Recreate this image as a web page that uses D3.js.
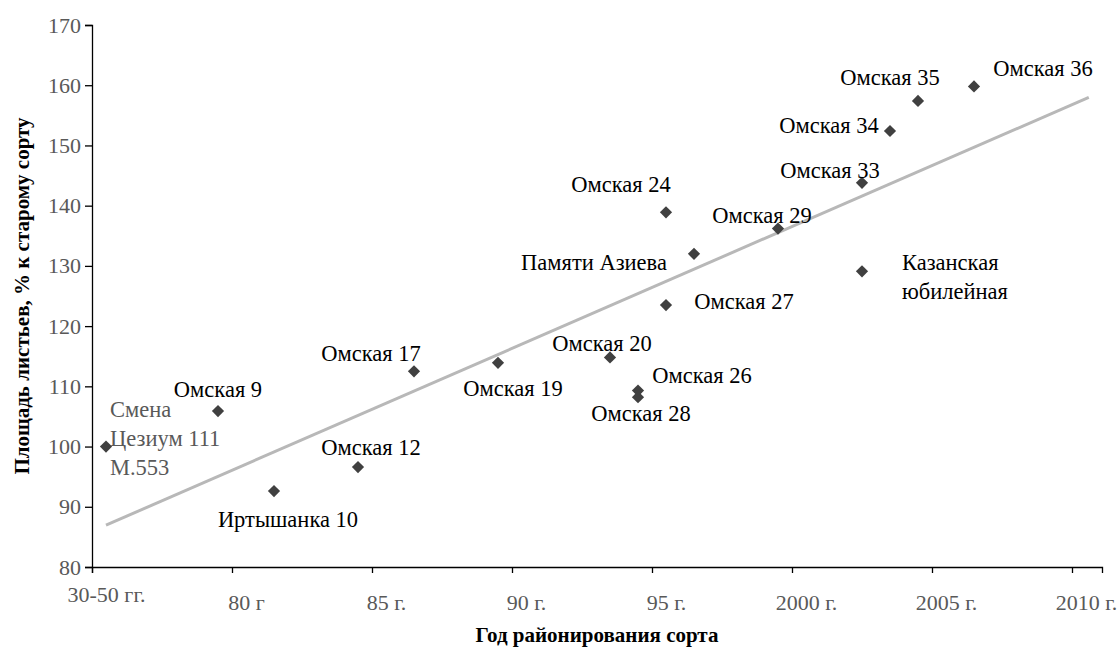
<!DOCTYPE html>
<html>
<head>
<meta charset="utf-8">
<script src="https://cdn.jsdelivr.net/npm/d3@7"></script>
<style>
  body { margin: 0; background: #fff; }
</style>
</head>
<body>
<div id="chart"></div>
<script>
// tick labels on the x axis (one every tick, 0..7)
const xTickLabels = ["30-50 гг.", "80 г", "85 г.", "90 г.", "95 г.", "2000 г.", "2005 г.", "2010 г."];
const yTicks = [80, 90, 100, 110, 120, 130, 140, 150, 160, 170];

// varieties: label lines, x in tick units, leaf area in %
const labels = [
    ["Смена", "Цезиум 111", "М.553"], ["Омская 9"], ["Иртышанка 10"], ["Омская 12"],
    ["Омская 17"], ["Омская 19"], ["Омская 20"], ["Омская 26"], ["Омская 28"],
    ["Омская 24"], ["Омская 27"], ["Памяти Азиева"], ["Омская 29"], ["Омская 33"],
    ["Казанская", "юбилейная"], ["Омская 34"], ["Омская 35"], ["Омская 36"]
];
const xValues = [0.1, 0.9, 1.3, 1.9, 2.3, 2.9, 3.7, 3.9, 3.9, 4.1, 4.1, 4.3, 4.9, 5.5, 5.5, 5.7, 5.9, 6.3];
const yValues = [100, 105.9, 92.6, 96.6, 112.5, 113.9, 114.8, 109.3, 108.2, 138.9, 123.5, 132.0, 136.2, 143.8, 129.1, 152.4, 157.4, 159.8];

// trendline is forecast forward up to this x
const trendEnd = 7.12;

// label placement relative to the marker: dx, dy (first baseline), anchor
const labelPlace = [
    [4, -30, "start"], [0, -14, "middle"], [14, 36, "middle"], [13, -12, "middle"],
    [-43, -10, "middle"], [15, 33, "middle"], [-8, -6, "middle"], [64, -8, "middle"],
    [3, 24, "middle"], [-45, -20, "middle"], [78, 4, "middle"], [-100, 16, "middle"],
    [-16, -6, "middle"], [-32, -5, "middle"], [40, -1, "start"], [-61, 2, "middle"],
    [-28, -16, "middle"], [69, -10, "middle"]
];

const serif = "'Liberation Serif', 'Times New Roman', serif";
const width = 1120, height = 653;
const margin = {top: 25, left: 92, right: 18, bottom: 86};

const svg = d3.select("#chart").append("svg")
    .attr("width", width)
    .attr("height", height)
    .attr("font-family", serif)
    .style("background", "#fff");

const x = d3.scaleLinear()
    .domain([0, 7.2143])
    .range([margin.left, width - margin.right]);

const y = d3.scaleLinear()
    .domain([80, 170])
    .range([height - margin.bottom, margin.top]);

// axes
const xAxis = svg.append("g")
    .attr("transform", `translate(0,${y(80)})`)
    .call(d3.axisBottom(x).tickValues(d3.range(xTickLabels.length)).tickSize(6).tickFormat(""));
xAxis.select(".domain").attr("stroke", "#000").attr("stroke-width", 1.3);
xAxis.selectAll(".tick line").attr("stroke", "#000").attr("stroke-width", 1.3);

svg.append("g").selectAll("text")
    .data(xTickLabels)
    .join("text")
    .attr("x", (d, i) => x(i) + 14.5)
    .attr("y", (d, i) => i === 0 ? 602 : 610)
    .attr("text-anchor", "middle")
    .attr("font-family", serif)
    .attr("font-size", 22)
    .attr("fill", "#595959")
    .text(d => d);

const yAxis = svg.append("g")
    .attr("transform", `translate(${x(0)},0)`)
    .call(d3.axisLeft(y).tickValues(yTicks).tickSize(7).tickPadding(4));
yAxis.attr("font-family", serif);
yAxis.select(".domain").attr("stroke", "#000").attr("stroke-width", 1.3);
yAxis.selectAll(".tick line").attr("stroke", "#000").attr("stroke-width", 1.3);
yAxis.selectAll(".tick text")
    .attr("font-family", serif)
    .attr("font-size", 22)
    .attr("fill", "#595959");

// linear trend (least squares)
const n = xValues.length;
const mx = d3.mean(xValues), my = d3.mean(yValues);
const slope = d3.sum(xValues, (v, i) => (v - mx) * (yValues[i] - my)) / d3.sum(xValues, v => (v - mx) ** 2);
const icpt = my - slope * mx;
const trendX = [d3.min(xValues), trendEnd];

svg.append("path")
    .datum(trendX)
    .attr("fill", "none")
    .attr("stroke", "#b8b8b8")
    .attr("stroke-width", 3)
    .attr("d", d3.line().x(d => x(d)).y(d => y(icpt + slope * d)));

// markers
const points = d3.range(n).map(i => ({lines: labels[i], x: xValues[i], y: yValues[i], pos: labelPlace[i], idx: i}));

svg.append("g").selectAll("path")
    .data(points)
    .join("path")
    .attr("transform", d => `translate(${x(d.x)},${y(d.y)})`)
    .attr("d", d3.symbol(d3.symbolDiamond2, 95))
    .attr("fill", "#404040");

// labels
const lab = svg.append("g").selectAll("text")
    .data(points)
    .join("text")
    .attr("x", d => x(d.x) + d.pos[0])
    .attr("y", d => y(d.y) + d.pos[1])
    .attr("text-anchor", d => d.pos[2])
    .attr("font-family", serif)
    .attr("font-size", 22.5)
    .attr("fill", d => d.idx === 0 ? "#595959" : "#000");

lab.selectAll("tspan")
    .data(d => d.lines.map(l => ({l, d})))
    .join("tspan")
    .attr("x", o => x(o.d.x) + o.d.pos[0])
    .attr("dy", (o, i) => i === 0 ? 0 : 29)
    .text(o => o.l);

// axis titles
svg.append("text")
    .attr("x", (x.range()[0] + x.range()[1]) / 2)
    .attr("y", 642)
    .attr("text-anchor", "middle")
    .attr("font-family", serif)
    .attr("font-size", 21)
    .attr("font-weight", "bold")
    .text("Год районирования сорта");

svg.append("text")
    .attr("transform", `translate(29,${(y(80) + y(170)) / 2}) rotate(-90)`)
    .attr("text-anchor", "middle")
    .attr("font-family", serif)
    .attr("font-size", 21)
    .attr("font-weight", "bold")
    .text("Площадь листьев, % к старому сорту");
</script>
</body>
</html>
